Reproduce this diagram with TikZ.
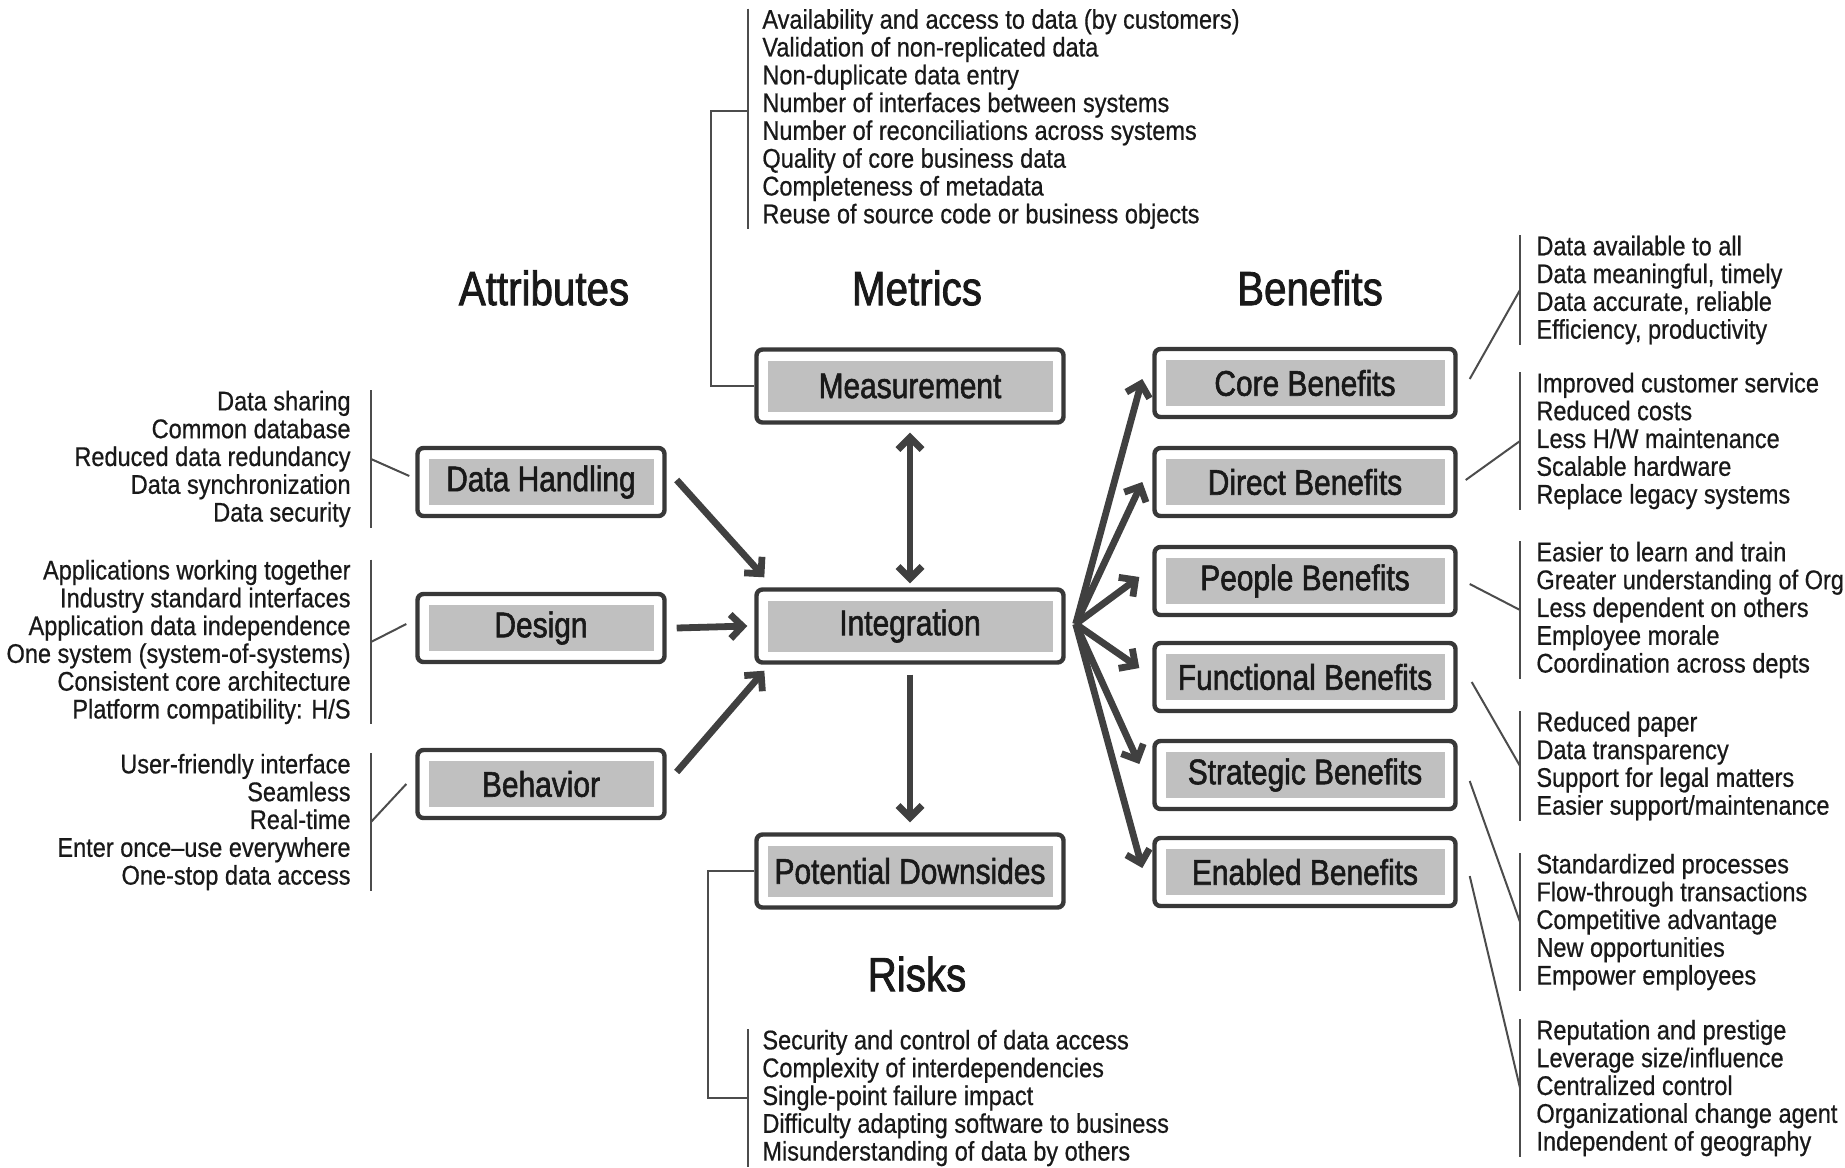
\documentclass[tikz,border=0pt]{standalone}
\usepackage{fontspec}
\setmainfont{Liberation Sans}[FakeStretch=0.872, FakeBold=0.6]
\newfontfamily\labelfamily{Liberation Sans}[FakeStretch=0.84, FakeBold=1.6]
\usepackage{tikz}
\usetikzlibrary{arrows.meta, calc, positioning}
\definecolor{boxline}{rgb}{0.22, 0.22, 0.22}
\definecolor{boxfill}{rgb}{0.753, 0.753, 0.753}
\definecolor{flowgray}{rgb}{0.25, 0.25, 0.25}
\definecolor{tiegray}{rgb}{0.3, 0.3, 0.3}
\definecolor{inkblack}{rgb}{0.1, 0.1, 0.1}

\begin{document}
\begin{tikzpicture}[
	x=0.5pt, y=-0.5pt,
	texts/.style = {text=inkblack},
	heading/.style = {texts, inner sep=0pt, font=\labelfamily\fontsize{24}{28}\selectfont},
	entries/.style = {texts, inner sep=0pt, font=\fontsize{13.5}{13.9}\selectfont},
	entriesL/.style = {entries, align=left, anchor=west},
	entriesR/.style = {entries, align=right, anchor=east},
	box/.style = {texts, draw=boxline, line width=2.2pt, rounded corners=3pt, fill=white,
		inner sep=0pt, font=\labelfamily\fontsize{17.8}{20}\selectfont,
		path picture={\fill[boxfill, sharp corners]
			([shift={(5.5pt,5.5pt)}]path picture bounding box.south west) rectangle
			([shift={(-5.5pt,-5.5pt)}]path picture bounding box.north east);}},
	leftbox/.style = {box, minimum width=123.5pt, minimum height=34pt},
	midbox/.style = {box, minimum width=153.5pt, minimum height=36.5pt},
	rightbox/.style = {box, minimum width=150.5pt, minimum height=34pt},
	flow/.style = {draw=flowgray, line width=3.4pt, -{Straight Barb[length=6pt, width=12pt]}},
	flowboth/.style = {flow, {Straight Barb[length=6pt, width=12pt]}-{Straight Barb[length=6pt, width=12pt]}},
	tie/.style = {draw=tiegray, line width=1pt},
	bracket/.style = {draw=tiegray, line width=1pt}
]
	\useasboundingbox (0,0) rectangle (1845,1167);

	% headings
	\node[heading] (attr) at (544, 288) {Attributes};
	\node[heading] (metr) at (917, 288) {Metrics};
	\node[heading] (bene) at (1310, 288) {Benefits};
	\node[heading] (risk) at (917, 974) {Risks};

	% boxes
	\node[leftbox] (handling) at (541, 482) {Data Handling};
	\node[leftbox] (design) at (541, 628) {Design};
	\node[leftbox] (behavior) at (541, 784) {Behavior};
	\node[midbox] (measure) at (910, 386) {Measurement};
	\node[midbox] (integ) at (910, 626) {Integration};
	\node[midbox] (downside) at (910, 871) {Potential Downsides};
	\node[rightbox] (core) at (1305, 383) {Core Benefits};
	\node[rightbox] (direct) at (1305, 482) {Direct Benefits};
	\node[rightbox] (people) at (1305, 581) {People Benefits};
	\node[rightbox] (functional) at (1305, 677) {Functional Benefits};
	\node[rightbox] (strategic) at (1305, 775) {Strategic Benefits};
	\node[rightbox] (enabled) at (1305, 872) {Enabled Benefits};

	% lists
	\node[entriesR] (handlinglist) at (351, 459) {Data sharing\\Common database\\Reduced data redundancy\\Data synchronization\\Data security};
	\node[entriesR] (designlist) at (351, 642) {Applications working together\\Industry standard interfaces\\Application data independence\\One system (system-of-systems)\\Consistent core architecture\\Platform compatibility: H/S};
	\node[entriesR] (behaviorlist) at (351, 822) {User-friendly interface\\Seamless\\Real-time\\Enter once--use everywhere\\One-stop data access};
	\node[entriesL] (measurelist) at (762, 119) {Availability and access to data (by customers)\\Validation of non-replicated data\\Non-duplicate data entry\\Number of interfaces between systems\\Number of reconciliations across systems\\Quality of core business data\\Completeness of metadata\\Reuse of source code or business objects};
	\node[entriesL] (downsidelist) at (762, 1098) {Security and control of data access\\Complexity of interdependencies\\Single-point failure impact\\Difficulty adapting software to business\\Misunderstanding of data by others};
	\node[entriesL] (corelist) at (1536, 290) {Data available to all\\Data meaningful, timely\\Data accurate, reliable\\Efficiency, productivity};
	\node[entriesL] (directlist) at (1536, 441) {Improved customer service\\Reduced costs\\Less H/W maintenance\\Scalable hardware\\Replace legacy systems};
	\node[entriesL] (peoplelist) at (1536, 610) {Easier to learn and train\\Greater understanding of Org\\Less dependent on others\\Employee morale\\Coordination across depts};
	\node[entriesL] (functionallist) at (1536, 766) {Reduced paper\\Data transparency\\Support for legal matters\\Easier support/maintenance};
	\node[entriesL] (strategiclist) at (1536, 922) {Standardized processes\\Flow-through transactions\\Competitive advantage\\New opportunities\\Empower employees};
	\node[entriesL] (enabledlist) at (1536, 1088) {Reputation and prestige\\Leverage size/influence\\Centralized control\\Organizational change agent\\Independent of geography};

	% brackets beside the lists
	\draw[bracket] ([xshift=10pt]handlinglist.north east) -- ([xshift=10pt]handlinglist.south east);
	\draw[bracket] ([xshift=10pt]designlist.north east) -- ([xshift=10pt]designlist.south east);
	\draw[bracket] ([xshift=10pt]behaviorlist.north east) -- ([xshift=10pt]behaviorlist.south east);
	\draw[bracket] ([xshift=-7pt]measurelist.north west) -- ([xshift=-7pt]measurelist.south west);
	\draw[bracket] ([xshift=-7pt]downsidelist.north west) -- ([xshift=-7pt]downsidelist.south west);
	\draw[bracket] ([xshift=-8pt]corelist.north west) -- ([xshift=-8pt]corelist.south west);
	\draw[bracket] ([xshift=-8pt]directlist.north west) -- ([xshift=-8pt]directlist.south west);
	\draw[bracket] ([xshift=-8pt]peoplelist.north west) -- ([xshift=-8pt]peoplelist.south west);
	\draw[bracket] ([xshift=-8pt]functionallist.north west) -- ([xshift=-8pt]functionallist.south west);
	\draw[bracket] ([xshift=-8pt]strategiclist.north west) -- ([xshift=-8pt]strategiclist.south west);
	\draw[bracket] ([xshift=-8pt]enabledlist.north west) -- ([xshift=-8pt]enabledlist.south west);

	% ties from boxes to lists
	\draw[tie] ([xshift=10pt]handlinglist.east) -- ([shift={(-3pt,3pt)}]handling.west);
	\draw[tie] ([xshift=10pt]designlist.east) -- ([shift={(-4.5pt,2pt)}]design.west);
	\draw[tie] ([xshift=10pt]behaviorlist.east) -- ([xshift=-4.5pt]behavior.west);
	\draw[tie] ([shift={(-7pt,4pt)}]measurelist.west) -- ++(-18.5pt,0) |- (measure.west);
	\draw[tie] (downside.west) -- ++(-23pt,0) |- ([xshift=-7pt]downsidelist.west);
	\draw[tie] ([shift={(6pt,2pt)}]core.east) -- ([xshift=-8pt]corelist.west);
	\draw[tie] ([shift={(4pt,1pt)}]direct.east) -- ([xshift=-8pt]directlist.west);
	\draw[tie] ([shift={(6pt,-1.5pt)}]people.east) -- ([xshift=-8pt]peoplelist.west);
	\draw[tie] ([shift={(7pt,-2.5pt)}]functional.east) -- ([xshift=-8pt]functionallist.west);
	\draw[tie] ([shift={(6pt,-3pt)}]strategic.east) -- ([xshift=-8pt]strategiclist.west);
	\draw[tie] ([shift={(6pt,-2pt)}]enabled.east) -- ([xshift=-8pt]enabledlist.west);

	% arrows into and out of integration
	\draw[flow] ([shift={(5pt,1pt)}]handling.east) -- ([shift={(5pt,5pt)}]integ.north west);
	\draw[flow] ([xshift=5pt]design.east) -- ([xshift=-3.5pt]integ.west);
	\draw[flow] ([shift={(5pt,6pt)}]behavior.east) -- ([shift={(5pt,-3pt)}]integ.south west);
	\draw[flowboth] ([yshift=-4pt]measure.south) -- ([yshift=2pt]integ.north);
	\draw[flow] ([yshift=-5pt]integ.south) -- ([yshift=5pt]downside.north);
	\coordinate (fan) at ([shift={(5pt,1pt)}]integ.east);
	\draw[flow] (fan) -- ([shift={(-5pt,2pt)}]core.west);
	\draw[flow] (fan) -- ([xshift=-5pt]direct.west);
	\draw[flow] (fan) -- ([shift={(-6.5pt,2pt)}]people.west);
	\draw[flow] (fan) -- ([shift={(-6.5pt,4.5pt)}]functional.west);
	\draw[flow] (fan) -- ([shift={(-6.5pt,5.5pt)}]strategic.west);
	\draw[flow] (fan) -- ([shift={(-5pt,2pt)}]enabled.west);
\end{tikzpicture}
\end{document}
